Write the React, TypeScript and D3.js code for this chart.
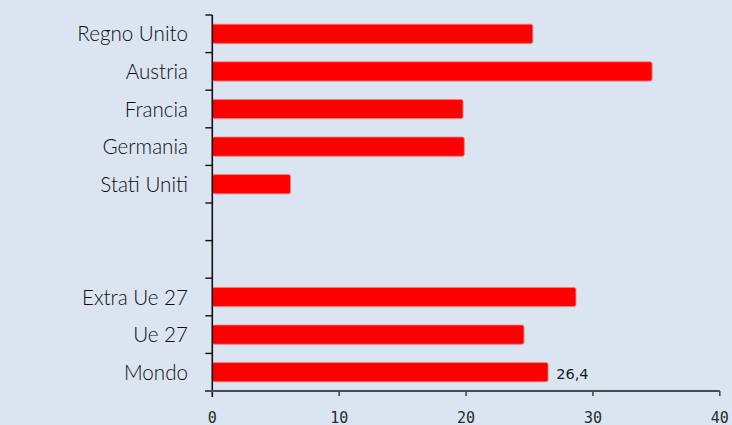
import React from "react";
import * as d3 from "d3";

const categories = ["Regno Unito", "Austria", "Francia", "Germania", "Stati Uniti", "", "", "Extra Ue 27", "Ue 27", "Mondo"];
const values: (number | null)[] = [25.2, 34.6, 19.7, 19.8, 6.1, null, null, 28.6, 24.5, 26.4];
const xTicks = [0, 10, 20, 30, 40];
const valueLabelIndex = 9;

const W = 732;
const H = 425;

export default function App() {
  const x = d3.scaleLinear().domain([0, 40]).range([212.3, 719.8]);
  const idx = categories.map((_, i) => i);
  const y = d3.scaleBand<number>().domain(idx).range([15, 391]).paddingInner(0).paddingOuter(0);
  const step = y.step();
  const barH = step * 0.51;
  const x0 = x(0);
  const axisY = 391;
  const boundaries = d3.range(categories.length + 1).map((i) => 15 + i * step);

  return (
    <div style={{ position: "fixed", left: 0, top: 0 }}>
      <svg width={W} height={H} style={{ display: "block" }}>
        <rect x={0} y={0} width={W} height={H} fill="#dbe5f1" />
        {values.map((v, i) =>
          v == null ? null : (
            <rect
              key={i}
              x={x0}
              y={(y(i) as number) + (step - barH) / 2}
              width={x(v) - x0 + 0.8}
              height={barH}
              rx={2}
              fill="#ff0000"
              stroke="#ff7a7a"
              strokeWidth={0.8}
            />
          )
        )}
        {categories.map((c, i) =>
          c ? (
            <text
              key={i}
              x={188}
              y={(y(i) as number) + step / 2}
              dy="0.37em"
              textAnchor="end"
              fontFamily="Lato, 'Open Sans', sans-serif"
              fontWeight={300}
              fontSize={20.6}
              fill="#0d0d0d"
            >
              {c}
            </text>
          ) : null
        )}
        {/* y axis */}
        <line x1={x0} x2={x0} y1={15} y2={397} stroke="#111" strokeWidth={1.6} />
        {boundaries.map((b, i) => (
          <line key={i} x1={x0 - 7} x2={x0} y1={b} y2={b} stroke="#111" strokeWidth={1.4} />
        ))}
        {/* x axis */}
        <line x1={x0 - 7} x2={x(40)} y1={axisY} y2={axisY} stroke="#4a4a4f" strokeWidth={2} />
        {xTicks.map((t) => (
          <g key={t}>
            {t !== 0 && <line x1={x(t)} x2={x(t)} y1={axisY} y2={axisY + 5} stroke="#4a4a4f" strokeWidth={1.6} />}
            <text
              x={x(t)}
              y={422.5}
              textAnchor="middle"
              fontFamily="'DejaVu Sans Mono', monospace"
              fontSize={15}
              fill="#2a2a2a"
            >
              {t}
            </text>
          </g>
        ))}
        <text
          x={x(values[valueLabelIndex] as number) + 9}
          y={(y(valueLabelIndex) as number) + step / 2}
          dy="0.5em"
          fontFamily="'DejaVu Sans', sans-serif"
          fontSize={14.5}
          fill="#1a1a1a"
        >
          {String(values[valueLabelIndex]).replace(".", ",")}
        </text>
      </svg>
    </div>
  );
}
